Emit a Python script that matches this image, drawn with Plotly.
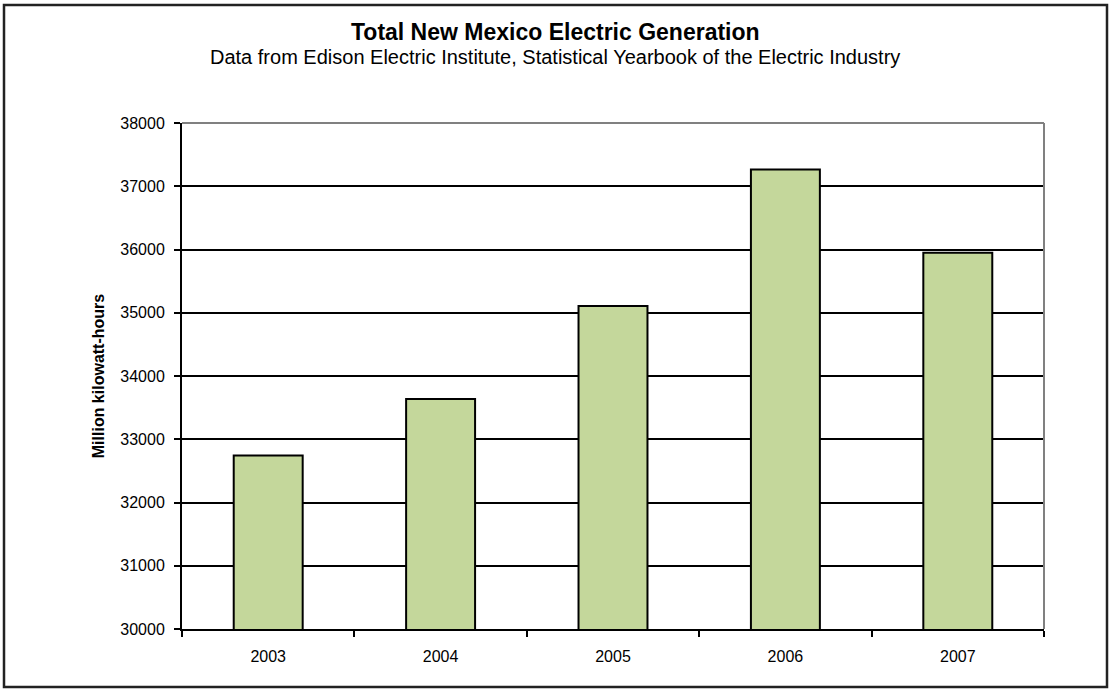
import plotly.graph_objects as go

# Total electric generation, million kWh
years = ["2003", "2004", "2005", "2006", "2007"]
generation = [32745, 33636, 35106, 37264, 35948]
y_ticks = [30000, 31000, 32000, 33000, 34000, 35000, 36000, 37000, 38000]

FONT = "Arial, Liberation Sans, sans-serif"
W, H = 1110, 690
L, R, T, B = 182, 66, 123, 61
PW, PH = W - L - R, H - T - B


def px_x(x):
    return (x - L) / PW


def px_y(y):
    return 1 - (y - T) / PH


fig = go.Figure(
    go.Bar(
        x=years,
        y=generation,
        width=0.4,
        marker=dict(color="#C4D79B", line=dict(color="#000000", width=2)),
        hoverinfo="x+y",
    )
)

fig.update_layout(
    width=W,
    height=H,
    margin=dict(l=L, r=R, t=T, b=B),
    paper_bgcolor="white",
    plot_bgcolor="white",
    showlegend=False,
    font=dict(family=FONT, color="#000000", size=16),
    xaxis=dict(
        type="category",
        showgrid=False,
        showline=True,
        linecolor="#000000",
        linewidth=2,
        ticks="outside",
        tickson="boundaries",
        ticklen=6,
        tickwidth=2,
        tickcolor="#000000",
        tickfont=dict(size=16),
        ticklabelstandoff=12,
    ),
    yaxis=dict(
        range=[30000, 38000],
        tickvals=y_ticks,
        ticktext=[str(v) for v in y_ticks],
        showgrid=True,
        gridcolor="#000000",
        gridwidth=2,
        showline=True,
        linecolor="#000000",
        linewidth=2,
        ticks="outside",
        ticklen=6,
        tickwidth=2,
        tickcolor="#000000",
        tickfont=dict(size=16),
        ticklabelstandoff=6,
        zeroline=False,
        title=dict(
            text="<b>Million kilowatt-hours</b>",
            font=dict(size=16, family=FONT),
            standoff=12,
        ),
    ),
    annotations=[
        dict(
            text="<b>Total New Mexico Electric Generation</b>",
            x=px_x(555), xref="paper", y=px_y(32), yref="paper",
            xanchor="center", yanchor="middle", showarrow=False,
            font=dict(size=23, family=FONT),
        ),
        dict(
            text="Data from Edison Electric Institute, Statistical Yearbook of the Electric Industry",
            x=px_x(555), xref="paper", y=px_y(57), yref="paper",
            xanchor="center", yanchor="middle", showarrow=False,
            font=dict(size=20, family=FONT),
        ),
    ],
    shapes=[
        # plot-area frame, top and right edges
        dict(type="line", xref="paper", yref="paper", x0=0, x1=1, y0=1, y1=1,
             line=dict(color="#808080", width=2), layer="above"),
        dict(type="line", xref="paper", yref="paper", x0=1, x1=1, y0=0, y1=1,
             line=dict(color="#808080", width=2), layer="above"),
        # outer chart border
        dict(type="rect", xref="paper", yref="paper",
             x0=px_x(4), x1=px_x(1107), y0=px_y(687), y1=px_y(5),
             line=dict(color="#222222", width=2.5), fillcolor="rgba(0,0,0,0)",
             layer="above"),
    ],
)

fig.write_html("out.html")
